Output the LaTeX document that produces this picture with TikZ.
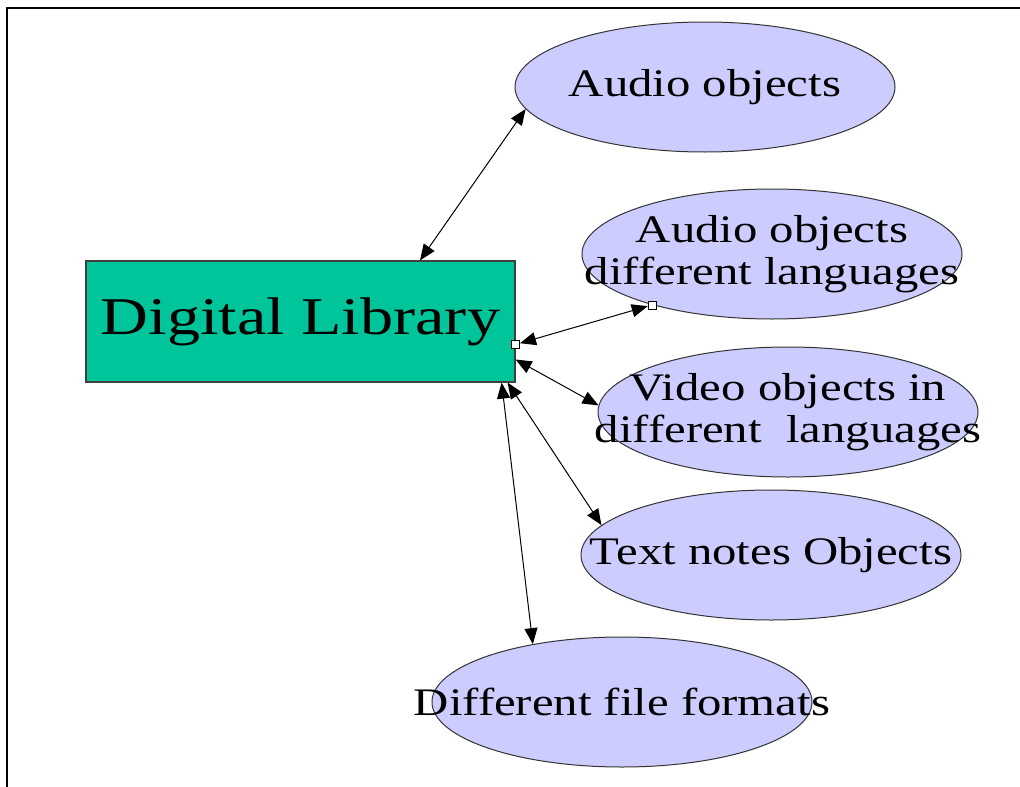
\documentclass[tikz,border=0pt]{standalone}
\usepackage{fontspec}
\setmainfont{Liberation Serif}[FakeStretch=1.25]
\usepackage{tikz}
\usetikzlibrary{arrows.meta,shapes.geometric}
\definecolor{libgreen}{RGB}{0,196,154}
\definecolor{objblue}{RGB}{204,204,255}
\tikzset{
  lib/.style={rectangle, draw=black!75, line width=1.2pt, fill=libgreen, minimum width=429pt, minimum height=121pt, inner sep=0pt, font=\fontsize{53}{56}\selectfont},
  obj/.style={ellipse, draw=black!80, line width=1pt, fill=objblue, minimum width=380pt, minimum height=130pt, inner xsep=-80pt, inner ysep=0pt, align=center, font=\fontsize{39}{42}\selectfont},
  sq/.style={rectangle, draw=black, line width=0.8pt, fill=white, minimum size=8pt, inner sep=0pt}
}
\begin{document}
\begin{tikzpicture}[x=1pt, y=-1pt, <->, >={Triangle[length=16pt,width=13pt]}, line width=1pt]
\useasboundingbox (0,0) rectangle (1020,787);
\draw[-, line width=2pt] (1020,7.5) -- (7,7.5) -- (7,787);

\node[lib] (dl) at (300.5,321.5) {Digital Library};
\node[obj] (aud)  at (705,87)  {Audio objects};
\node[obj] (audl) at (772,254) {Audio objects\\different languages};
\node[obj] (vid)  at (788,412) {Video objects in\\different\ \ languages};
\node[obj] (txt)  at (771,555) {Text notes Objects};
\node[obj] (fmt)  at (622,702) {Different file formats};

\node[sq] (sq1) at ([yshift=-23pt]dl.east) {};
\node[sq] (sq2) at (audl.203) {};

\draw ([xshift=119.5pt]dl.north) -- (aud.187);
\draw (sq1) -- (sq2);
\draw ([yshift=-38pt]dl.east) -- (vid.178);
\draw ([xshift=-8pt]dl.south east) -- (txt.170);
\draw ([xshift=-14pt]dl.south east) -- (fmt.147);

\end{tikzpicture}
\end{document}
